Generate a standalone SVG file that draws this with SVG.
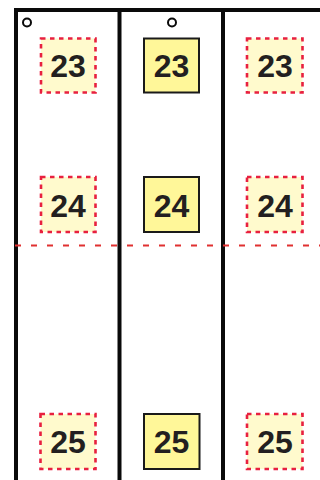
<svg xmlns="http://www.w3.org/2000/svg" width="320" height="480" viewBox="0 0 320 480">
<style>
.frame{stroke:#0a0a0a;stroke-width:4;fill:none}
.dash{fill:#fffacd;stroke:#e8203f;stroke-width:2.6;stroke-dasharray:4.5 4.5}
.solid{fill:#fff799;stroke:#1a1a1a;stroke-width:2}
.lbl{font-family:"Liberation Sans",Arial,sans-serif;font-weight:bold;font-size:32px;fill:#231f20;text-anchor:middle}
.hole{fill:none;stroke:#0a0a0a;stroke-width:2}
</style>
<rect width="320" height="480" fill="#fff"/>
<g id="frame">
<line class="frame" x1="14" y1="10" x2="320" y2="10"/>
<line class="frame" x1="16" y1="8" x2="16" y2="480"/>
<line class="frame" x1="119.5" y1="8" x2="119.5" y2="480"/>
<line class="frame" x1="223" y1="8" x2="223" y2="480"/>
<circle class="hole" cx="27" cy="22.5" r="4"/>
<circle class="hole" cx="172" cy="22.5" r="4"/>
</g>
<g id="connectors">
<line x1="15" y1="245.5" x2="320" y2="245.5" stroke="#e03030" stroke-width="2.2" stroke-dasharray="6 10"/>
</g>
<g id="n23a"><rect class="dash" x="41" y="38.5" width="54.5" height="54"/><text class="lbl" x="68" y="77">23</text></g>
<g id="n23b"><rect class="solid" x="144" y="38.5" width="55" height="54"/><text class="lbl" x="171.5" y="77">23</text></g>
<g id="n23c"><rect class="dash" x="247" y="38.5" width="55.5" height="54"/><text class="lbl" x="275" y="77">23</text></g>
<g id="n24a"><rect class="dash" x="41" y="177" width="54.5" height="55"/><text class="lbl" x="68" y="217">24</text></g>
<g id="n24b"><rect class="solid" x="144" y="177" width="55" height="55"/><text class="lbl" x="171.5" y="217">24</text></g>
<g id="n24c"><rect class="dash" x="247" y="177" width="55.5" height="55"/><text class="lbl" x="275" y="217">24</text></g>
<g id="n25a"><rect class="dash" x="40.5" y="414" width="55" height="55"/><text class="lbl" x="68" y="453">25</text></g>
<g id="n25b"><rect class="solid" x="144" y="414" width="55.5" height="55"/><text class="lbl" x="171.5" y="453">25</text></g>
<g id="n25c"><rect class="dash" x="247" y="414" width="55.5" height="55"/><text class="lbl" x="275" y="453">25</text></g>
</svg>
